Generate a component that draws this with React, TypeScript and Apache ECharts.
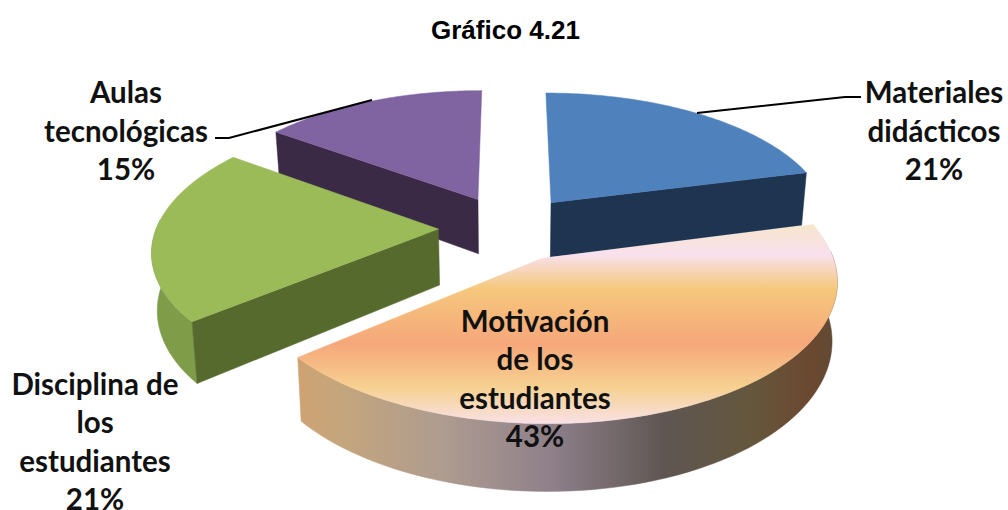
import React, { useEffect, useRef } from "react";
import * as echarts from "echarts";

const chartTitle = "Gráfico 4.21";
const categories = ["Materiales didácticos", "Motivación de los estudiantes", "Disciplina de los estudiantes", "Aulas tecnológicas"];
const values = [21, 43, 21, 15];
const labelLines = [
  ["Materiales", "didácticos"],
  ["Motivación", "de los", "estudiantes"],
  ["Disciplina de", "los", "estudiantes"],
  ["Aulas", "tecnológicas"],
];
const topColors: any[] = [
  "#4f81bd",
  {
    type: "linear", x: 0, y: 222, x2: 0, y2: 424, global: true,
    colorStops: [
      { offset: 0, color: "#f7e6c8" },
      { offset: 0.16, color: "#f8e1ee" },
      { offset: 0.33, color: "#f5c87c" },
      { offset: 0.6, color: "#f6a77a" },
      { offset: 0.82, color: "#f6d191" },
      { offset: 1, color: "#f9e1e6" },
    ],
  },
  "#9bbb59",
  "#8064a2",
];
const faceColors = ["#1f3450", "#7a5a3c", "#566a2e", "#3a2a45"];
const wallColors: any[] = [
  "#2a4a72",
  {
    type: "linear", x: 296, y: 0, x2: 838, y2: 0, global: true,
    colorStops: [
      { offset: 0, color: "#cfa272" },
      { offset: 0.08, color: "#c5a67c" },
      { offset: 0.27, color: "#ae9c90" },
      { offset: 0.47, color: "#8f808a" },
      { offset: 0.68, color: "#5f5653" },
      { offset: 0.84, color: "#64573c" },
      { offset: 0.95, color: "#6b4830" },
      { offset: 1, color: "#5f4a35" },
    ],
  },
  "#7f9c49",
  "#4c3a63",
];
const paintOrder = [1, 5, 3, 1];
const labelAnchors = [
  { x: 934, y: 130 },
  { x: 535, y: 378 },
  { x: 95, y: 441 },
  { x: 126, y: 130 },
];

const CX = 509, CY = 228, RX = 282, RY = 132, PERSP = 0.143, EXPLODE = 0.25, DEPTH = 56, CONVERGE = 0.016;
const total = values.reduce((a, b) => a + b, 0);

function project(u: number, v: number, down: number): number[] {
  const w = 1 - PERSP * v;
  const shrink = 1 - (CONVERGE * down) / DEPTH;
  return [CX + ((RX * u) / w) * shrink, CY + (RY * v + down) / w];
}

function renderSlice(params: any, api: any) {
  const i = params.dataIndex;
  const start = (values.slice(0, i).reduce((a, b) => a + b, 0) / total) * Math.PI * 2;
  const end = start + (api.value(0) / total) * Math.PI * 2;
  const mid = (start + end) / 2;
  const ou = EXPLODE * Math.sin(mid), ov = -EXPLODE * Math.cos(mid);
  const rim = (t: number, down: number) => project(ou + Math.sin(t), ov - Math.cos(t), down);
  const steps = 80;
  const top: number[][] = [];
  const wallTop: number[][] = [];
  const wallLow: number[][] = [];
  for (let s = 0; s <= steps; s++) {
    const t = start + ((end - start) * s) / steps;
    top.push(rim(t, 0));
    // The outer wall shows only where the rim turns towards the viewer.
    if (Math.cos(t) < 0.08) {
      wallTop.push(rim(t, 0));
      wallLow.push(rim(t, DEPTH));
    }
  }
  const apexTop = project(ou, ov, 0);
  const apexLow = project(ou, ov, DEPTH);
  const poly = (points: number[][], fill: any, z2: number) => ({
    type: "polygon",
    z2,
    shape: { points },
    style: { fill, stroke: fill, lineWidth: 0.5 },
  });
  const z = paintOrder[i];
  const children: any[] = [];
  if (wallTop.length > 1) children.push(poly([...wallTop, ...wallLow.reverse()], wallColors[i], z));
  // Only the cut faces that turn towards the viewer are drawn.
  if (-Math.sin(start) > 0.01) children.push(poly([apexTop, top[0], rim(start, DEPTH), apexLow], faceColors[i], z + 0.25));
  if (Math.sin(end) > 0.01) children.push(poly([apexTop, top[steps], rim(end, DEPTH), apexLow], faceColors[i], z + 0.25));
  children.push(poly([apexTop, ...top], topColors[i], z + 0.5));
  return { type: "group", children };
}

export default function App() {
  const ref = useRef<HTMLDivElement>(null);
  useEffect(() => {
    const chart = echarts.init(ref.current!, undefined, { renderer: "svg" });
    const font = { fontFamily: "Lato", fontWeight: "bold" as const, fontSize: 29.5, lineHeight: 38.5, fill: "#111111" };
    chart.setOption({
      animation: false,
      backgroundColor: "#ffffff",
      title: {
        text: chartTitle,
        left: 426,
        top: 12,
        textStyle: { fontFamily: "Liberation Sans", fontWeight: "bold", fontSize: 26, color: "#000000" },
      },
      series: [
        {
          type: "custom",
          coordinateSystem: "none",
          name: "Problemas",
          silent: true,
          data: values.map((v, i) => ({ name: categories[i], value: [v] })),
          renderItem: renderSlice,
        },
      ],
      graphic: [
        { type: "polyline", z: 20, shape: { points: [[697, 113], [845, 97], [861, 97]] }, style: { stroke: "#000", lineWidth: 2, fill: "none" } },
        { type: "polyline", z: 20, shape: { points: [[215, 138], [229, 138], [372, 100]] }, style: { stroke: "#000", lineWidth: 2, fill: "none" } },
        ...labelLines.map((lines, i) => ({
          type: "text",
          z: 30,
          x: labelAnchors[i].x,
          y: labelAnchors[i].y,
          style: {
            ...font,
            text: [...lines, `${values[i]}%`].join("\n"),
            align: "center",
            verticalAlign: "middle",
          },
        })),
      ],
    });
    return () => chart.dispose();
  }, []);
  return <div ref={ref} style={{ position: "absolute", left: 0, top: 0, width: 1008, height: 510 }} />;
}
